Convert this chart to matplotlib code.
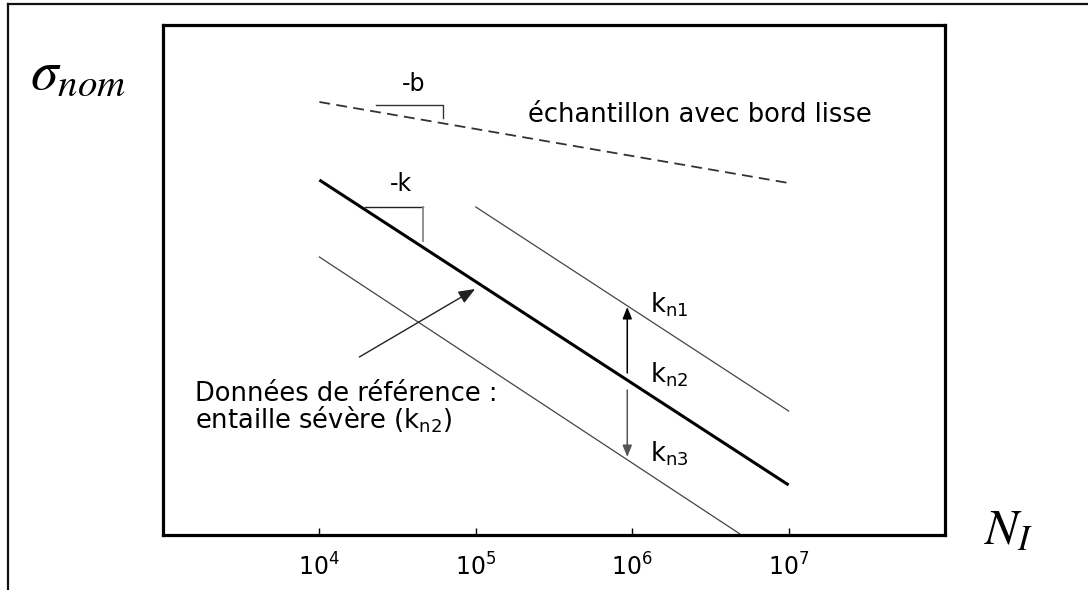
import numpy as np
import matplotlib
matplotlib.use('Agg')
import matplotlib.pyplot as plt
from matplotlib.lines import Line2D

# S-N sketch values (log N on x, nominal stress in arbitrary units on y)
N_SMOOTH = [1e4, 1e7]
S_SMOOTH = [433, 352]
N_REF = [1e4, 1e7]
S_REF = [355, 50]
N_KN1 = [1e5, 1e7]
S_KN1 = [328, 124]
N_KN3 = [1e4, 5e6]
S_KN3 = [278, 0]

# slope triangles
N_TRI_B = [2.3e4, 6.2e4, 6.2e4]
S_TRI_B = [430, 430, 417]
N_TRI_K = [1.95e4, 4.6e4, 4.6e4]
S_TRI_K = [328, 328, 294]

XTICKS = [1e4, 1e5, 1e6, 1e7]
XTICK_LABELS = [r'$10^{4}$', r'$10^{5}$', r'$10^{6}$', r'$10^{7}$']

W, H = 1088, 590
fig = plt.figure(figsize=(W / 100, H / 100), dpi=100)

# outer frame (top and left edges only)
fig.add_artist(Line2D([8 / W, 1.0], [1 - 4 / H, 1 - 4 / H], transform=fig.transFigure,
                      color='#111111', lw=1.6))
fig.add_artist(Line2D([8 / W, 8 / W], [1 - 4 / H, 0.0], transform=fig.transFigure,
                      color='#111111', lw=1.6))

ax = fig.add_axes([163 / W, (H - 535) / H, (945 - 163) / W, (535 - 25) / H])
ax.set_xscale('log')
ax.set_xlim(1e3, 1e8)
ax.set_ylim(0, 510)
for sp in ax.spines.values():
    sp.set_linewidth(2.3)
ax.set_yticks([])
ax.set_xticks(XTICKS)
ax.set_xticklabels(XTICK_LABELS)
ax.minorticks_off()
ax.tick_params(axis='x', direction='in', length=5, width=1, labelsize=17, pad=13)

# lines
ax.plot(N_SMOOTH, S_SMOOTH, color='#333333', lw=1.3, ls=(0, (6, 3.5)))
ax.plot(N_REF, S_REF, color='black', lw=2.2, solid_capstyle='butt')
ax.plot(N_KN1, S_KN1, color='#444444', lw=0.9)
ax.plot(N_KN3, S_KN3, color='#444444', lw=0.9)

# slope triangles
ax.plot(N_TRI_B, S_TRI_B, color='#333333', lw=1.0)
ax.plot(N_TRI_K[:2], S_TRI_K[:2], color='#222222', lw=1.0)
ax.plot(N_TRI_K[1:], S_TRI_K[1:], color='#888888', lw=1.3)
ax.text(4.0e4, 451, '-b', fontsize=17, ha='center', va='center')
ax.text(3.3e4, 351, '-k', fontsize=17, ha='center', va='center')

ax.text(2.15e5, 420, 'échantillon avec bord lisse', fontsize=18.5, ha='left', va='center')

# arrow towards reference line
ax.annotate('', xy=(9.9e4, 246), xytext=(1.8e4, 178),
            arrowprops=dict(arrowstyle='-|>,head_length=1.0,head_width=0.4',
                            color='#222222', lw=1.0, shrinkA=0, shrinkB=0))
ax.text(1.6e3, 154, 'Données de référence :\nentaille sévère (k$_\\mathregular{n2}$)',
        fontsize=18.5, ha='left', va='top', linespacing=0.9)

# k_n arrows
ax.annotate('', xy=(9.3e5, 228), xytext=(9.3e5, 162),
            arrowprops=dict(arrowstyle='-|>,head_length=0.7,head_width=0.28',
                            color='black', lw=1.1, shrinkA=0, shrinkB=0))
ax.annotate('', xy=(9.3e5, 78), xytext=(9.3e5, 145),
            arrowprops=dict(arrowstyle='-|>,head_length=0.7,head_width=0.28',
                            color='#555555', lw=1.1, shrinkA=0, shrinkB=0))
ax.text(1.3e6, 230, 'k$_\\mathregular{n1}$', fontsize=18.5, ha='left', va='center')
ax.text(1.3e6, 160, 'k$_\\mathregular{n2}$', fontsize=18.5, ha='left', va='center')
ax.text(1.3e6, 81, 'k$_\\mathregular{n3}$', fontsize=18.5, ha='left', va='center')

# axis labels in math font
fig.text(30 / W, 1 - 74 / H, r'$\sigma_{nom}$', fontsize=40, ha='left', va='center',
         math_fontfamily='stix')
fig.text(983 / W, 1 - 530 / H, r'$N_{I}$', fontsize=36, ha='left', va='center',
         math_fontfamily='stix')

fig.savefig('out.png', dpi=100)
